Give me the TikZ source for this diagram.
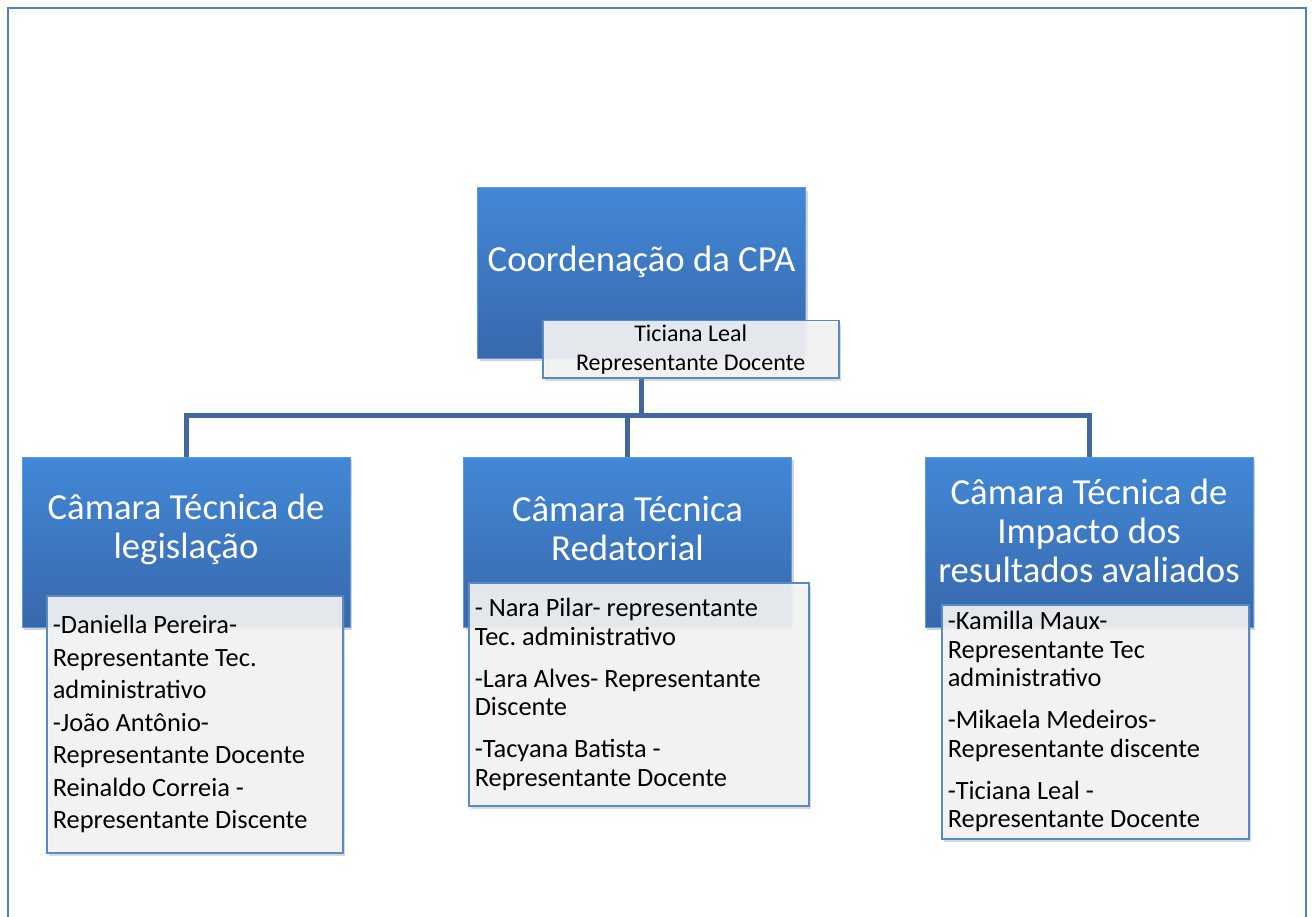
\documentclass[tikz,border=0pt]{standalone}
\usepackage{fontspec}
\setmainfont{Carlito}
\usetikzlibrary{shadows,backgrounds}
\definecolor{framec}{HTML}{4F81BD}
\definecolor{linkc}{HTML}{41679C}
\definecolor{boxtop}{HTML}{4288D6}
\definecolor{boxbot}{HTML}{3868AC}
\definecolor{boxedge}{HTML}{5A9AE0}
\definecolor{listc}{HTML}{5A8AC6}
\definecolor{listfill}{HTML}{F5F5F5}
\tikzset{
  titlebox/.style={rectangle, top color=boxtop, bottom color=boxbot, draw=boxedge,
    line width=1pt, minimum width=328pt, minimum height=170pt,
    drop shadow={opacity=0.35, shadow xshift=2pt, shadow yshift=-3pt}},
  titletext/.style={text=white, align=center, font=\fontsize{36.7}{39}\selectfont},
  listbox/.style={rectangle, draw=listc, line width=1.5pt, fill=listfill,
    fill opacity=0.9, text opacity=1, anchor=north west, align=flush left,
    inner xsep=6pt, inner ysep=0pt, font=\fontsize{26.4}{28.5}\selectfont\frenchspacing,
    drop shadow={opacity=0.3, shadow xshift=2pt, shadow yshift=-3pt}},
  link/.style={draw=linkc, line width=5pt},
}
\begin{document}
\begin{tikzpicture}[x=1pt,y=-1pt]
  \useasboundingbox (0,0) rectangle (1312,917);
  \node[titlebox, label={[name=coordtitle, titletext, yshift=11pt]center:Coordenação da CPA}] (coord) at (641.5,273) {};
  \node[titlebox, label={[name=legtitle, titletext, yshift=13pt]center:Câmara Técnica de\\legislação}] (leg) at (186,542) {};
  \node[titlebox, label={[name=redtitle, titletext, yshift=13pt]center:Câmara Técnica\\Redatorial}] (red) at (627.5,542) {};
  \node[titlebox, label={[name=imptitle, titletext, yshift=11pt]center:Câmara Técnica de\\Impacto dos\\resultados avaliados}] (imp) at (1089,542) {};
  \node[listbox, align=center, minimum width=296pt, minimum height=57pt,
    font=\fontsize{24}{29}\selectfont] (coordsub) at (542,320)
    {Ticiana Leal\\Representante Docente};
  \node[listbox, text width=284pt, minimum height=257pt,
    font=\fontsize{26.4}{32.5}\selectfont\frenchspacing] (legsub) at (46,595)
    {-Daniella Pereira-\\Representante Tec.\\administrativo\\-João Antônio-\\Representante Docente\\Reinaldo Correia -\\Representante Discente};
  \node[listbox, text width=328pt, minimum height=223pt] (redsub) at (468,582)
    {- Nara Pilar- representante\\Tec. administrativo\\[13.5pt]-Lara Alves- Representante\\Discente\\[13.5pt]-Tacyana Batista -\\Representante Docente};
  \node[listbox, text width=295pt, minimum height=234pt] (impsub) at (941,604)
    {-Kamilla Maux-\\Representante Tec\\administrativo\\[13.5pt]-Mikaela Medeiros-\\Representante discente\\[13.5pt]-Ticiana Leal -\\Representante Docente};
  \coordinate (bus) at (641.5,415);
  \begin{scope}[on background layer]
    \draw[framec, line width=2.5pt] (8,917) -- (8,8) -- (1306,8) -- (1306,917);
    \draw[link] (coord |- coordsub.south) -- (bus);
    \draw[link] (leg.north) |- (bus) -| (imp.north);
    \draw[link] (red.north) -- (red.north |- bus);
  \end{scope}
\end{tikzpicture}
\end{document}
